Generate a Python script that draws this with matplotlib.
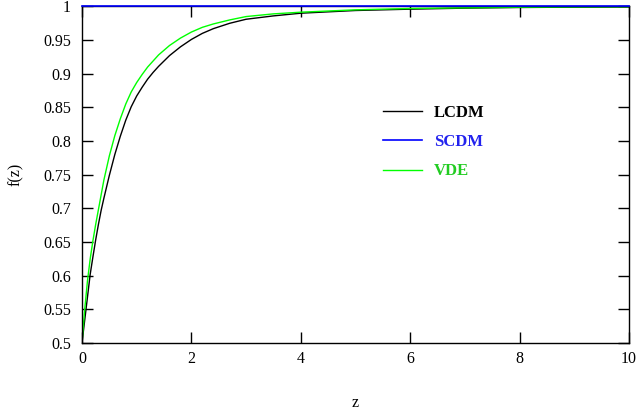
import matplotlib
matplotlib.use("Agg")
import matplotlib.pyplot as plt

plt.rcParams['font.family'] = ['Liberation Serif', 'DejaVu Serif']

# values
z = [0, 0.05, 0.1, 0.15, 0.2, 0.25, 0.3, 0.35, 0.4, 0.5, 0.6, 0.7, 0.8, 0.9,
     1.0, 1.1, 1.2, 1.3, 1.4, 1.5, 1.6, 1.8, 2.0, 2.2, 2.4, 2.7, 3.0, 3.5,
     4.0, 5.0, 6.0, 7.0, 8.0, 9.0, 10.0]
f_lcdm = [0.5, 0.534, 0.568, 0.602, 0.628, 0.653, 0.676, 0.697, 0.715, 0.749,
          0.780, 0.807, 0.831, 0.851, 0.867, 0.880, 0.892, 0.902, 0.911, 0.919,
          0.927, 0.940, 0.951, 0.960, 0.967, 0.975, 0.981, 0.986, 0.990, 0.994,
          0.996, 0.9975, 0.9985, 0.999, 0.9993]
f_vde = [0.5, 0.55, 0.592, 0.625, 0.652, 0.676, 0.698, 0.72, 0.742, 0.778,
         0.808, 0.833, 0.855, 0.873, 0.887, 0.899, 0.910, 0.919, 0.928, 0.935,
         0.942, 0.953, 0.962, 0.969, 0.974, 0.980, 0.985, 0.989, 0.9915, 0.995,
         0.997, 0.998, 0.9988, 0.9993, 0.9996]
f_scdm = [1.0] * len(z)

xticks = [0, 2, 4, 6, 8, 10]
yticks = [0.5, 0.55, 0.6, 0.65, 0.7, 0.75, 0.8, 0.85, 0.9, 0.95, 1.0]
ytick_labels = ['0.5', '0.55', '0.6', '0.65', '0.7', '0.75', '0.8',
                '0.85', '0.9', '0.95', '1']

fig = plt.figure(figsize=(6.38, 4.17), dpi=100)
ax = fig.add_axes([0.1285, 0.1775, 0.8575, 0.807])

ax.plot(z, f_lcdm, color='black', lw=1.0, label='LCDM')
ax.plot(z, f_scdm, color='#0000ff', lw=1.2, label='SCDM', clip_on=False, zorder=5)
ax.plot(z, f_vde, color='#00ff00', lw=1.0, label='VDE')

ax.set_xlim(0, 10)
ax.set_ylim(0.5, 1.0)
ax.set_xticks(xticks)
ax.set_yticks(yticks)
ax.set_yticklabels(ytick_labels)
ax.tick_params(direction='in', length=8, width=1.0, top=True, right=True,
               labelsize=11.5, pad=6)
ax.tick_params(axis='y', pad=8)
for s in ax.spines.values():
    s.set_linewidth(1.0)

ax.set_xlabel('z', fontsize=11.5, labelpad=20)
ax.set_ylabel('f(z)', fontsize=11.5, labelpad=14)

leg = ax.legend(loc='center', bbox_to_anchor=(0.643, 0.597), frameon=False,
                handlelength=2.35, handletextpad=0.72, labelspacing=0.8,
                prop={'weight': 'bold', 'size': 12},
                labelcolor=['black', '#2222ee', '#22cc22'])

fig.savefig('out.png', dpi=100)
